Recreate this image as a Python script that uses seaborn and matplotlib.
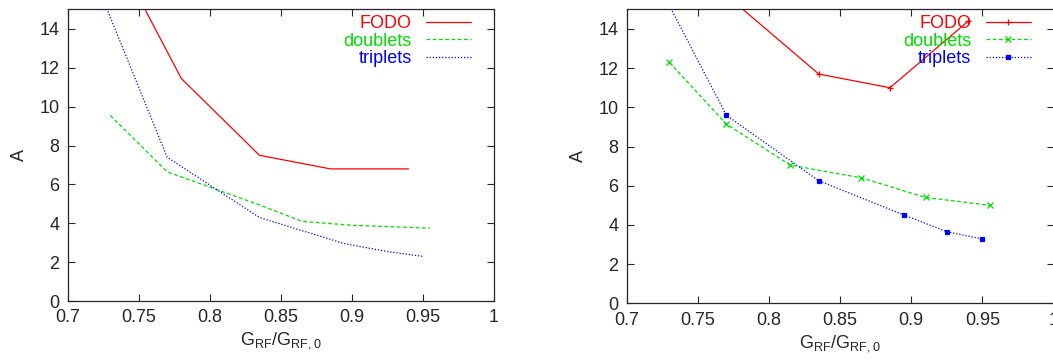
import seaborn as sns
import matplotlib.pyplot as plt
import pandas as pd

# left panel (no markers)
fodo_l_x = [0.73, 0.78, 0.835, 0.885, 0.94]
fodo_l_y = [18.4, 11.45, 7.5, 6.8, 6.8]
doub_l_x = [0.73, 0.77, 0.835, 0.865, 0.9, 0.955]
doub_l_y = [9.55, 6.65, 4.95, 4.1, 3.9, 3.75]
trip_l_x = [0.725, 0.77, 0.835, 0.895, 0.925, 0.95]
trip_l_y = [15.5, 7.4, 4.3, 2.95, 2.55, 2.3]

# right panel (with markers)
fodo_r_x = [0.73, 0.835, 0.885, 0.94]
fodo_r_y = [18.2, 11.7, 11.0, 14.4]
doub_r_x = [0.73, 0.77, 0.815, 0.865, 0.91, 0.955]
doub_r_y = [12.3, 9.15, 7.05, 6.4, 5.4, 5.0]
trip_r_x = [0.73, 0.77, 0.835, 0.895, 0.925, 0.95]
trip_r_y = [15.2, 9.6, 6.25, 4.5, 3.65, 3.28]

labels = ['FODO', 'doublets', 'triplets']
colors = ['#ff0000', '#00dd00', '#0000ff']
styles = ['-', (0, (3, 2)), (0, (1, 1.5))]
markers = ['+', 'x', 's']

sns.set_style('ticks')
plt.rcParams['font.family'] = ['Liberation Sans', 'DejaVu Sans']
plt.rcParams['mathtext.fontset'] = 'custom'
plt.rcParams['mathtext.rm'] = 'Liberation Sans'

fig = plt.figure(figsize=(10.53, 3.61), dpi=100)
ax1 = fig.add_axes([0.0643, 0.166, 0.4046, 0.8077])
ax2 = fig.add_axes([0.5951, 0.160, 0.4055, 0.814])


def draw(ax, xs, ys, with_markers):
    for i, (x, y) in enumerate(zip(xs, ys)):
        df = pd.DataFrame({'x': x, 'y': y})
        kw = {}
        if with_markers:
            kw = dict(marker=markers[i], markersize=3.2 if i == 2 else 4.5,
                      markeredgewidth=0.9, markeredgecolor=colors[i],
                      markerfacecolor=colors[i])
        sns.lineplot(data=df, x='x', y='y', ax=ax, color=colors[i],
                     linestyle=styles[i], linewidth=0.9, label=labels[i],
                     sort=False, **kw)
    ax.set_xlim(0.7, 1.0)
    ax.set_ylim(0, 15)
    ax.set_xticks([0.7, 0.75, 0.8, 0.85, 0.9, 0.95, 1.0])
    ax.set_xticklabels(['0.7', '0.75', '0.8', '0.85', '0.9', '0.95', '1'])
    ax.set_yticks([0, 2, 4, 6, 8, 10, 12, 14])
    ax.tick_params(direction='in', top=True, right=True, labelsize=13,
                   length=5, width=0.8, pad=6)
    for s in ax.spines.values():
        s.set_linewidth(0.9)
    ax.set_xlabel(r'$\mathregular{G_{RF}/G_{RF,0}}$', fontsize=13, labelpad=3)
    ax.set_ylabel('A', fontsize=13, labelpad=8)
    leg = ax.legend(loc='upper right', bbox_to_anchor=(0.964, 1.005),
                    markerfirst=False, frameon=False, fontsize=13,
                    handlelength=2.5, labelspacing=0.02, borderaxespad=0.0,
                    handletextpad=0.8)
    for t, c in zip(leg.get_texts(), colors):
        t.set_color(c)


draw(ax1, [fodo_l_x, doub_l_x, trip_l_x], [fodo_l_y, doub_l_y, trip_l_y], False)
draw(ax2, [fodo_r_x, doub_r_x, trip_r_x], [fodo_r_y, doub_r_y, trip_r_y], True)

plt.savefig('out.png', dpi=100)
